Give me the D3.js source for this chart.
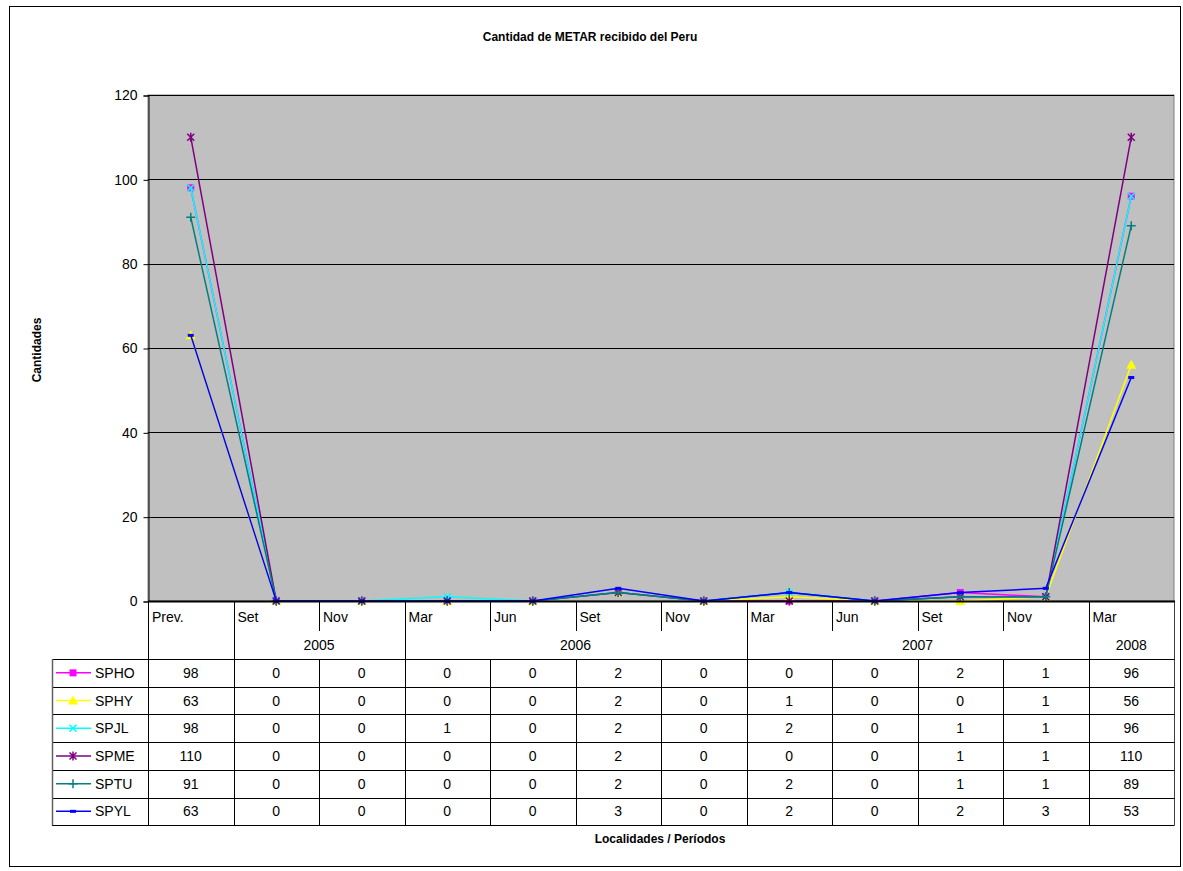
<!DOCTYPE html>
<html>
<head>
<meta charset="utf-8">
<script src="https://cdn.jsdelivr.net/npm/d3@7/dist/d3.min.js"></script>
<style>
html,body{margin:0;padding:0;background:#fff;}
svg{display:block;font-family:"Liberation Sans",Arial,sans-serif;}
</style>
</head>
<body>
<svg id="chart" width="1183" height="871"></svg>
<script>
const months = ["Prev.","Set","Nov","Mar","Jun","Set","Nov","Mar","Jun","Set","Nov","Mar"];
const years  = ["","2005","2005","2006","2006","2006","2006","2007","2007","2007","2007","2008"];
const yTicks = [0,20,40,60,80,100,120];
const seriesNames = ["SPHO","SPHY","SPJL","SPME","SPTU","SPYL"];
const seriesColors = ["#FF00FF","#FFFF00","#00FFFF","#800080","#008080","#0000FF"];
const seriesMarkers = ["square","triangle","x","star","plus","dash"];
const SPHO = [98,0,0,0,0,2,0,0,0,2,1,96];
const SPHY = [63,0,0,0,0,2,0,1,0,0,1,56];
const SPJL = [98,0,0,1,0,2,0,2,0,1,1,96];
const SPME = [110,0,0,0,0,2,0,0,0,1,1,110];
const SPTU = [91,0,0,0,0,2,0,2,0,1,1,89];
const SPYL = [63,0,0,0,0,3,0,2,0,2,3,53];
const seriesValues = [SPHO,SPHY,SPJL,SPME,SPTU,SPYL];

const svg = d3.select("#chart");
const L = 148, R = 1174, T = 95, B = 601;
const legL = 52;
const monthRowB = 631, yearRowB = 659;
const rowH = 27.7;
const tableB = yearRowB + rowH*6;

// outer frame
svg.append("rect").attr("x",9.5).attr("y",6.5).attr("width",1171).attr("height",860)
  .attr("fill","#fff").attr("stroke","#000").attr("stroke-width",1);

const x = d3.scaleBand().domain(d3.range(months.length)).range([L,R]).padding(0);
const y = d3.scaleLinear().domain([0,120]).range([B,T]);

// plot background
svg.append("rect").attr("x",L).attr("y",T).attr("width",R-L).attr("height",B-T)
  .attr("fill","#C0C0C0").attr("stroke","#808080").attr("stroke-width",1);

// gridlines
svg.append("g").selectAll("line").data(yTicks.filter(d=>d>0)).join("line")
  .attr("x1",L).attr("x2",R).attr("y1",d=>Math.round(y(d))+0.5).attr("y2",d=>Math.round(y(d))+0.5)
  .attr("stroke","#000").attr("stroke-width",1);

// y axis
const yAxis = d3.axisLeft(y).tickValues(yTicks).tickSize(5).tickPadding(6);
const gy = svg.append("g").attr("transform",`translate(${L+0.5},0.5)`).call(yAxis);
gy.select(".domain").attr("stroke","#000");
gy.selectAll(".tick line").attr("stroke","#000");
gy.selectAll(".tick text").attr("font-size",14).attr("fill","#000")
  .attr("font-family","'Liberation Sans',Arial,sans-serif");

// category table lines
const tg = svg.append("g").attr("stroke","#000").attr("stroke-width",1).attr("fill","none");
// bottom axis line (thick)
// vertical separators in category rows
months.forEach((m,i)=>{
  if(i===0) return;
  const xx = Math.round(x(i))+0.5;
  const full = years[i] !== years[i-1];
  tg.append("line").attr("x1",xx).attr("x2",xx).attr("y1",B).attr("y2", full ? tableB : monthRowB);
  if(!full){
    tg.append("line").attr("x1",xx).attr("x2",xx).attr("y1",yearRowB).attr("y2",tableB);
  }
});
// left line, right line
tg.append("line").attr("x1",L+0.5).attr("x2",L+0.5).attr("y1",B).attr("y2",tableB);
tg.append("line").attr("x1",R+0.5).attr("x2",R+0.5).attr("y1",B).attr("y2",tableB).attr("stroke","#404040");
// horizontal lines of data table
for(let r=0;r<=6;r++){
  const yy = Math.round(yearRowB + r*rowH)+0.5;
  tg.append("line").attr("x1",legL).attr("x2",R+0.5).attr("y1",yy).attr("y2",yy);
}
tg.append("line").attr("x1",legL+0.5).attr("x2",legL+0.5).attr("y1",yearRowB).attr("y2",tableB)
  .attr("stroke","#606060").attr("stroke-width",1.5);

// month labels
svg.append("g").selectAll("text").data(months).join("text")
  .attr("x",(d,i)=>x(i)+4).attr("y",622).attr("font-size",14).attr("fill","#000").text(d=>d);

// year labels (grouped)
const groups = [];
years.forEach((yv,i)=>{
  if(groups.length && groups[groups.length-1].label===yv) groups[groups.length-1].end=i;
  else groups.push({label:yv,start:i,end:i});
});
svg.append("g").selectAll("text").data(groups.filter(g=>g.label)).join("text")
  .attr("x",g=>(x(g.start)+x(g.end)+x.bandwidth())/2).attr("y",650)
  .attr("text-anchor","middle").attr("font-size",14).attr("fill","#000").text(g=>g.label);

// marker drawing
function drawMarker(g, type, color, cx, cy){
  const s = 3.5;
  if(type==="square"){
    g.append("rect").attr("x",cx-3.5).attr("y",cy-3.5).attr("width",7).attr("height",7).attr("fill",color);
  } else if(type==="triangle"){
    g.append("path").attr("d",`M${cx},${cy-5}L${cx+5},${cy+4}L${cx-5},${cy+4}Z`).attr("fill",color);
  } else if(type==="x"){
    g.append("path").attr("d",`M${cx-s},${cy-s}L${cx+s},${cy+s}M${cx-s},${cy+s}L${cx+s},${cy-s}`)
      .attr("stroke",color).attr("stroke-width",1.5);
  } else if(type==="star"){
    g.append("path").attr("d",`M${cx-s},${cy-s}L${cx+s},${cy+s}M${cx-s},${cy+s}L${cx+s},${cy-s}M${cx},${cy-4.5}L${cx},${cy+4.5}`)
      .attr("stroke",color).attr("stroke-width",1.5);
  } else if(type==="plus"){
    g.append("path").attr("d",`M${cx-4.5},${cy}L${cx+4.5},${cy}M${cx},${cy-4.5}L${cx},${cy+4.5}`)
      .attr("stroke",color).attr("stroke-width",1.5);
  } else if(type==="dash"){
    g.append("rect").attr("x",cx-3).attr("y",cy-1.5).attr("width",6).attr("height",3).attr("fill",color);
  }
}

// lines + markers
const line = d3.line().x((d,i)=>x(i)+x.bandwidth()/2).y(d=>y(d));
const lg = svg.append("g");
seriesValues.forEach((vals,si)=>{
  const g = lg.append("g");
  g.append("path").datum(vals).attr("d",line).attr("fill","none")
    .attr("stroke",seriesColors[si]).attr("stroke-width",1.5);
  vals.forEach((v,i)=>drawMarker(g, seriesMarkers[si], seriesColors[si], x(i)+x.bandwidth()/2, y(v)));
});

// bottom axis line
svg.append("line").attr("x1",L).attr("x2",R+1).attr("y1",B+0.5).attr("y2",B+0.5)
  .attr("stroke","#000").attr("stroke-width",2);

// data table values & legend keys
seriesValues.forEach((vals,si)=>{
  const cy = yearRowB + si*rowH + rowH/2;
  const g = svg.append("g");
  g.append("line").attr("x1",56).attr("x2",91).attr("y1",cy).attr("y2",cy)
    .attr("stroke",seriesColors[si]).attr("stroke-width",1.5);
  drawMarker(g, seriesMarkers[si], seriesColors[si], 73, cy);
  g.append("text").attr("x",95).attr("y",cy+5).attr("font-size",14).attr("fill","#000").text(seriesNames[si]);
  g.selectAll("text.v").data(vals).join("text").attr("class","v")
    .attr("x",(d,i)=>x(i)+x.bandwidth()/2).attr("y",cy+5)
    .attr("text-anchor","middle").attr("font-size",14).attr("fill","#000").text(d=>d);
});

// titles
svg.append("text").attr("x",590).attr("y",41).attr("text-anchor","middle")
  .attr("font-size",12).attr("font-weight","bold").attr("fill","#000").text("Cantidad de METAR recibido del Peru");
svg.append("text").attr("x",660).attr("y",843).attr("text-anchor","middle")
  .attr("font-size",12).attr("font-weight","bold").attr("fill","#000").text("Localidades / Períodos");
svg.append("text").attr("transform","translate(41,350) rotate(-90)").attr("text-anchor","middle")
  .attr("font-size",12).attr("font-weight","bold").attr("fill","#000").text("Cantidades");
</script>
</body>
</html>
